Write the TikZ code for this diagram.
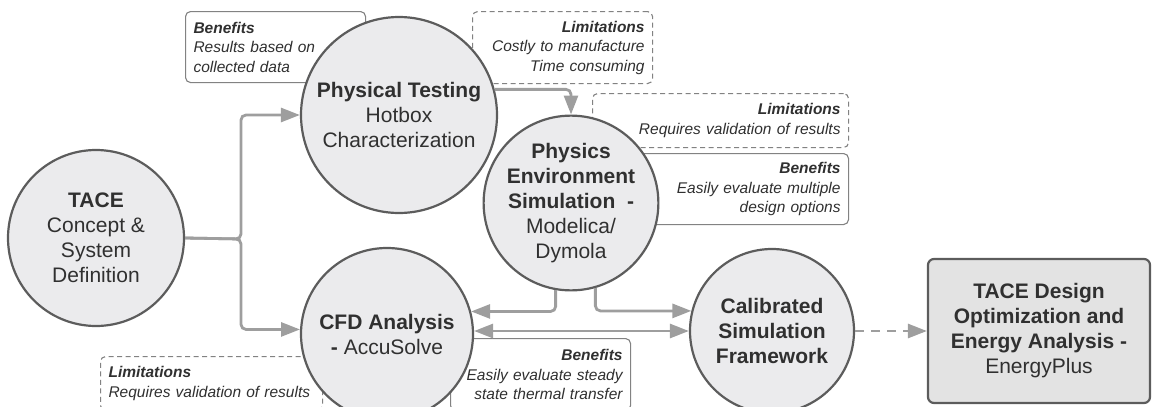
\documentclass[tikz,border=0pt]{standalone}
\usepackage{fontspec}
\setmainfont{Liberation Sans}
\usetikzlibrary{arrows.meta,positioning}
\definecolor{nodefill}{RGB}{235,235,237}
\definecolor{nodeline}{RGB}{92,92,92}
\definecolor{flowgray}{RGB}{158,158,158}
\definecolor{notegray}{RGB}{130,130,130}
\definecolor{txtgray}{RGB}{48,48,48}
\definecolor{boxfill}{RGB}{227,227,227}

\tikzset{
  stage/.style={circle, draw=nodeline, fill=nodefill, line width=2.2pt, inner sep=0pt,
    align=center, text=txtgray, font=\fontsize{21}{25}\selectfont},
  note/.style={draw=notegray, line width=1.1pt, rounded corners=5pt, fill=white,
    anchor=north west, inner xsep=8pt, inner ysep=0pt, text=txtgray,
    font=\fontsize{15.5}{19.5}\selectfont\itshape},
  limit/.style={note, dash pattern=on 5pt off 3.5pt},
  flow/.style={draw=flowgray, line width=2.8pt, rounded corners=5pt, ->},
  >={Triangle[length=19pt,width=14pt]}
}

\begin{document}
\begin{tikzpicture}[x=1pt,y=-1pt]
\useasboundingbox (0,0) rectangle (1152,407);
%%Notes
\node[note, text width=164pt, minimum height=71pt, align=left] (benphys) at (185,11)
  {\textbf{Benefits}\\Results based on\\collected data};
\node[limit, text width=164pt, minimum height=72pt, align=right] (limphys) at (472,11)
  {\textbf{Limitations}\\Costly to manufacture\\Time consuming};
\node[limit, text width=240pt, minimum height=54pt, align=right] (limenv) at (592,93)
  {\textbf{Limitations}\\Requires validation of results};
\node[note, text width=232pt, minimum height=71pt, align=right] (benenv) at (600,153)
  {\textbf{Benefits}\\Easily evaluate multiple\\design options};
\node[limit, text width=206pt, minimum height=54pt, align=left] (limcfd) at (100,356)
  {\textbf{Limitations}\\Requires validation of results};
\node[note, text width=164pt, minimum height=72pt, align=right] (bencfd) at (450,338)
  {\textbf{Benefits}\\Easily evaluate steady\\state thermal transfer};
%%Stages
\node[stage, minimum size=176pt] (tace) at (96,238)
  {\textbf{TACE}\\Concept \&\\System\\Definition};
\node[stage, minimum size=196pt] (phys) at (399,115)
  {\textbf{Physical Testing}\\Hotbox\\Characterization};
\node[stage, minimum size=172pt] (env) at (571,203)
  {\textbf{Physics}\\\textbf{Environment}\\\textbf{Simulation\ \ -}\\Modelica/\\Dymola};
\node[stage, minimum size=172pt] (cfd) at (387,334)
  {\textbf{CFD Analysis}\\\textbf{-} AccuSolve};
\node[stage, minimum size=164pt] (calib) at (772,331)
  {\textbf{Calibrated}\\\textbf{Simulation}\\\textbf{Framework}};
\node[stage, rectangle, rounded corners=6pt, fill=boxfill, minimum width=222pt,
  minimum height=144pt] (result) at (1039,331)
  {\textbf{TACE Design}\\\textbf{Optimization and}\\\textbf{Energy Analysis -}\\EnergyPlus};
%%Flows
\coordinate (split) at (241,239);
\draw[flow] (tace.east) -- (split) |- (phys.west);
\draw[flow] (tace.east) -- (split) |- (cfd.177);
\draw[flow] (phys.15) -| (env.north);
\draw[flow] (env.260) |- (cfd.15);
\draw[flow] (env.286) |- (calib.166);
\draw[flow, <->] (cfd.east |- calib.west) -- (calib.west);
\draw[flow, dash pattern=on 9pt off 7pt] (calib.east) -- (result.west);
\end{tikzpicture}
\end{document}
